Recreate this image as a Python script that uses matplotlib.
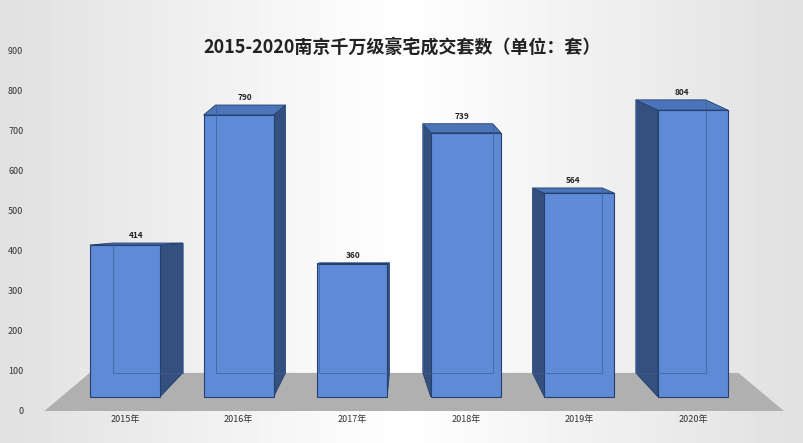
import matplotlib
matplotlib.use("Agg")
import matplotlib.pyplot as plt
from matplotlib.patches import Polygon
import numpy as np

plt.rcParams['font.family'] = ['Noto Sans CJK SC', 'DejaVu Sans']

years = ["2015年", "2016年", "2017年", "2018年", "2019年", "2020年"]
values = [414, 790, 360, 739, 564, 804]
yticks = [0, 100, 200, 300, 400, 500, 600, 700, 800, 900]
title = "2015-2020南京千万级豪宅成交套数（单位：套）"

fig = plt.figure(figsize=(8.04, 4.43), dpi=100)
bg = fig.add_axes([0, 0, 1, 1], zorder=-10)
grad = np.linspace(0, 1, 256)
img = 1 - 0.12 * np.abs(grad - 0.5) * 2
bg.imshow(np.tile(img, (10, 1)), cmap='gray', vmin=0, vmax=1, aspect='auto', extent=[0, 1, 0, 1])
bg.axis('off')

ax = fig.add_axes([40/804, 32/443, 750/804, 361/443])
ax.set_xlim(-0.748, 5.854)
ax.set_ylim(0, 900)
ax.patch.set_alpha(0)
for s in ax.spines.values():
    s.set_visible(False)
ax.set_xticks([])
ax.set_yticks(yticks)
ax.set_yticklabels([str(t) for t in yticks], fontsize=6.5, color='#333333')
ax.tick_params(axis='y', length=0, pad=12)

floor = Polygon([(-0.71, 0), (5.8, 0), (5.4, 95), (-0.31, 95)], closed=True,
                facecolor='#b0b0b0', edgecolor='none', zorder=1)
ax.add_patch(floor)

w = 0.616
dxs = [0.2, 0.105, 0.02, -0.07, -0.105, -0.195]
front_c = '#5f8ad6'
side_c = '#34507e'
top_c = '#4c74b8'
edge_c = '#23406e'
for i, v in enumerate(values):
    x0, x1 = i - w/2, i + w/2
    ft = 0.862 * v + 57
    bt = 0.915 * v + 40
    fb, bb = 35, 95
    dx = dxs[i]
    if dx > 0:
        side = [(x1, fb), (x1, ft), (x1+dx, bt), (x1+dx, bb)]
    else:
        side = [(x0, fb), (x0, ft), (x0+dx, bt), (x0+dx, bb)]
    ax.add_patch(Polygon(side, facecolor=side_c, edgecolor=edge_c, lw=0.6, zorder=2))
    top = [(x0, ft), (x1, ft), (x1+dx, bt), (x0+dx, bt)]
    ax.add_patch(Polygon(top, facecolor=top_c, edgecolor=edge_c, lw=0.6, zorder=3))
    ax.add_patch(Polygon([(x0, fb), (x1, fb), (x1, ft), (x0, ft)], facecolor=front_c,
                         edgecolor=edge_c, lw=0.8, zorder=4))
    ax.plot([x0+dx, x0+dx, x1+dx, x1+dx], [bt, bb, bb, bt], color='#3d5f99', lw=0.5, zorder=5)
    ax.text(i + dx/2, bt + 8, str(v), ha='center', va='bottom', fontsize=6,
            fontweight='bold', color='#222222', zorder=6)
    ax.text(i, -22, years[i], ha='center', va='center', fontsize=6.5, color='#333333')

fig.text(0.5, 0.893, title, ha='center', va='center', fontsize=13, fontweight='bold', color='#222222')
fig.savefig("out.png", dpi=100)
